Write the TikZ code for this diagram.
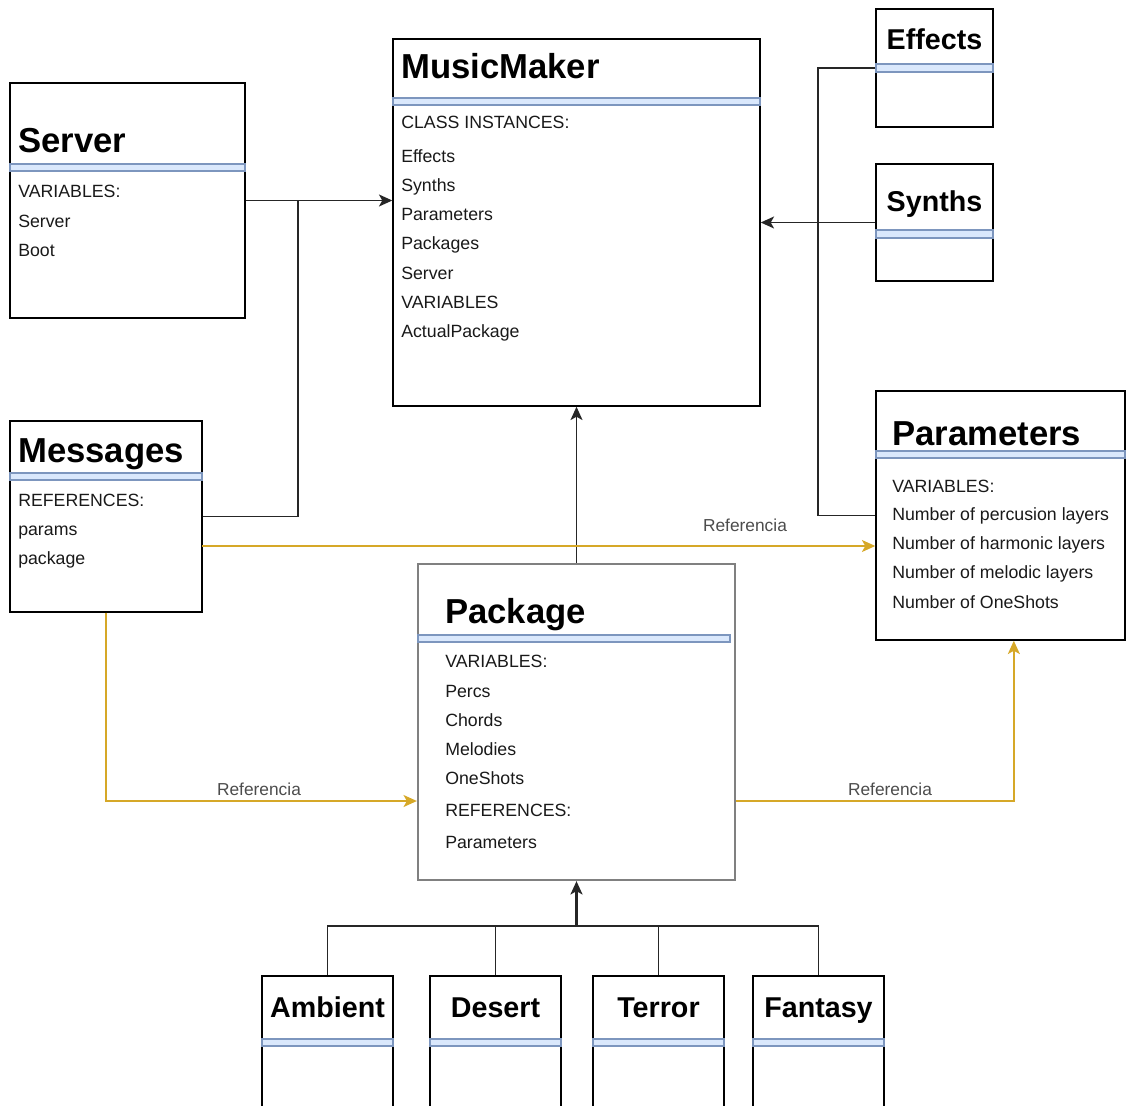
\documentclass[tikz,border=0pt]{standalone}
\usepackage{fontspec}
\setmainfont{Liberation Sans}
\usetikzlibrary{arrows.meta, fit, positioning}

\definecolor{refgold}{RGB}{214,168,40}
\definecolor{barfill}{RGB}{218,232,252}
\definecolor{bardraw}{RGB}{125,150,190}

\tikzset{
  classbox/.style={draw=black, line width=1.1pt, inner sep=0pt},
  pkgbox/.style={draw=black!50, line width=1.7pt, inner sep=0pt},
  sepbar/.style={fill=barfill, draw=bardraw, line width=0.8pt},
  title/.style={anchor=base west, inner sep=0pt, font=\fontsize{26}{30}\selectfont\bfseries},
  smalltitle/.style={anchor=base, inner sep=0pt, font=\fontsize{21.5}{25}\selectfont\bfseries},
  field/.style={anchor=base west, inner sep=0pt, text=black!90, font=\fontsize{13.3}{15}\selectfont},
  reflabel/.style={anchor=base, inner sep=0pt, text=black!70, font=\fontsize{13}{15}\selectfont},
  link/.style={draw=black!85, line width=1.2pt},
  reflink/.style={draw=refgold, line width=1.2pt}
}

\begin{document}
\begin{tikzpicture}[x=0.75pt, y=-0.75pt, >={Stealth[length=10pt,width=9pt,inset=2.5pt]}]
				\useasboundingbox (0,0) rectangle (1129,1106);
				\clip (0,0) rectangle (1129,1106);
				% Server
				\node[classbox, fit={(10,83) (245,318)}] (server) {};
				\draw[sepbar] (10,164) rectangle (245,171);
				\node[title] (servertitle) at (18,152) {Server};
				\node[field] (servervars) at (18,197) {VARIABLES:};
				\node[field] (serverserver) at (18,227) {Server};
				\node[field] (serverboot) at (18,256) {Boot};
				% MusicMaker
				\node[classbox, fit={(393,39) (760,406)}] (maker) {};
				\draw[sepbar] (393,98) rectangle (760,105);
				\node[title] (makertitle) at (401,79) {MusicMaker};
				\node[field] (makerinst) at (401,128) {CLASS INSTANCES:};
				\node[field] (makereffects) at (401,162) {Effects};
				\node[field] (makersynths) at (401,191) {Synths};
				\node[field] (makerparams) at (401,220) {Parameters};
				\node[field] (makerpackages) at (401,249) {Packages};
				\node[field] (makerserver) at (401,279) {Server};
				\node[field] (makervars) at (401,308) {VARIABLES};
				\node[field] (makeractual) at (401,337) {ActualPackage};
				% Effects and Synths
				\node[classbox, fit={(876,9) (993,127)}] (effects) {};
				\draw[sepbar] (876,64) rectangle (993,72);
				\node[smalltitle] (effectstitle) at (934.5,50) {Effects};
				\node[classbox, fit={(876,164) (993,281)}] (synths) {};
				\draw[sepbar] (876,230) rectangle (993,238);
				\node[smalltitle] (synthstitle) at (934.5,211) {Synths};
				% Messages
				\node[classbox, fit={(10,421) (202,612)}] (msg) {};
				\draw[sepbar] (10,473) rectangle (202,480);
				\node[title] (msgtitle) at (18,462) {Messages};
				\node[field] (msgrefs) at (18,506) {REFERENCES:};
				\node[field] (msgparams) at (18,535) {params};
				\node[field] (msgpackage) at (18,564) {package};
				% Parameters
				\node[classbox, fit={(876,391) (1125,640)}] (params) {};
				\draw[sepbar] (876,451) rectangle (1125,458);
				\node[title] (paramstitle) at (892,445) {Parameters};
				\node[field] (paramsvars) at (892,492) {VARIABLES:};
				\node[field] (paramsperc) at (892,520) {Number of percusion layers};
				\node[field] (paramsharm) at (892,549) {Number of harmonic layers};
				\node[field] (paramsmel) at (892,578) {Number of melodic layers};
				\node[field] (paramsone) at (892,608) {Number of OneShots};
				% Package
				\node[pkgbox, fit={(418,564) (735,880)}] (package) {};
				\draw[sepbar] (418,635) rectangle (730,642);
				\node[title] (packagetitle) at (445,623) {Package};
				\node[field] (packagevars) at (445,667) {VARIABLES:};
				\node[field] (packagepercs) at (445,697) {Percs};
				\node[field] (packagechords) at (445,726) {Chords};
				\node[field] (packagemel) at (445,755) {Melodies};
				\node[field] (packageone) at (445,784) {OneShots};
				\node[field] (packagerefs) at (445,816) {REFERENCES:};
				\node[field] (packageparams) at (445,848) {Parameters};
				% Package kinds
				\node[classbox, fit={(262,976) (393,1115)}] (ambient) {};
				\draw[sepbar] (262,1039) rectangle (393,1046);
				\node[smalltitle] (ambienttitle) at (327.5,1017) {Ambient};
				\node[classbox, fit={(430,976) (561,1115)}] (desert) {};
				\draw[sepbar] (430,1039) rectangle (561,1046);
				\node[smalltitle] (deserttitle) at (495.5,1017) {Desert};
				\node[classbox, fit={(593,976) (724,1115)}] (terror) {};
				\draw[sepbar] (593,1039) rectangle (724,1046);
				\node[smalltitle] (terrortitle) at (658.5,1017) {Terror};
				\node[classbox, fit={(753,976) (884,1115)}] (fantasy) {};
				\draw[sepbar] (753,1039) rectangle (884,1046);
				\node[smalltitle] (fantasytitle) at (818.5,1017) {Fantasy};
				% Links to MusicMaker
				\coordinate (srvjoin) at (298,200.5);
				\coordinate (fxjoin) at (818,222.5);
				\draw[link, ->] (server.east) -- (server.east -| maker.west);
				\draw[link] (msg.east) -| (srvjoin);
				\draw[link] (effects.west) -| (fxjoin);
				\draw[link] (params.west) -| (fxjoin);
				\draw[link, ->] (synths.west) -- (synths.west -| maker.east);
				\draw[link, ->] (package.north) -- (package.north |- maker.south);
				% References
				\coordinate (msgout) at (202,546);
				\coordinate (pkgin) at (package.west |- 0,801);
				\coordinate (pkgout) at (package.east |- 0,801);
				\draw[reflink, ->] (msgout) -- (msgout -| params.west);
				\draw[reflink, ->] (msg.south) |- (pkgin);
				\draw[reflink, ->] (pkgout) -| ([xshift=10pt]params.south);
				\node[reflabel] (reflbla) at (745,531) {Referencia};
				\node[reflabel] (reflblb) at (259,795) {Referencia};
				\node[reflabel] (reflblc) at (890,795) {Referencia};
				% Inheritance
				\coordinate (hub) at (package.south |- 0,926);
				\draw[link] (ambient.north) |- (hub);
				\draw[link] (desert.north) |- (hub);
				\draw[link] (terror.north) |- (hub);
				\draw[link] (fantasy.north) |- (hub);
				\draw[link, line width=1.7pt, ->] (hub) -- (package.south);
\end{tikzpicture}
\end{document}
